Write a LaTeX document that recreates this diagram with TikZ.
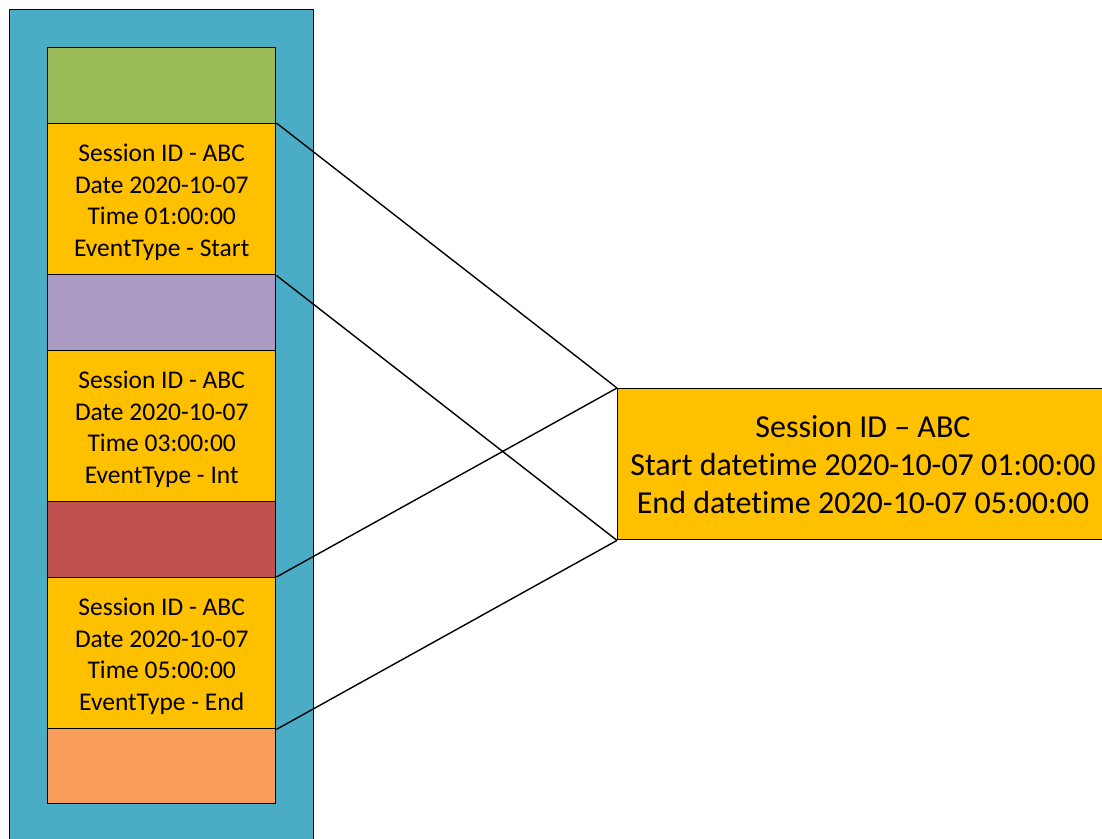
\documentclass[tikz,border=0pt]{standalone}
\usepackage{fontspec}
\setmainfont{Carlito}[Ligatures=NoCommon]
\definecolor{frameblue}{HTML}{4BACC6}
\definecolor{slotgreen}{HTML}{9BBB59}
\definecolor{eventamber}{HTML}{FFC000}
\definecolor{slotpurple}{HTML}{AB9BC3}
\definecolor{slotred}{HTML}{C0504D}
\definecolor{slotorange}{HTML}{F79D59}
\begin{document}
\begin{tikzpicture}[x=1bp,y=-1bp,
  box/.style={draw=black,line width=1.4bp,inner sep=0pt,minimum width=228bp,anchor=north west},
  slot/.style={box,minimum height=76bp},
  event/.style={box,fill=eventamber,minimum height=151bp},
  eventtext/.style={align=center,inner sep=0pt,font=\fontsize{25.5bp}{31.7bp}\selectfont},
  link/.style={draw=black,line width=1.4bp}]
\useasboundingbox (0,0) rectangle (1102,839);
% outer container
\node[draw=black,line width=1.4bp,fill=frameblue,inner sep=0pt,anchor=north west,
  minimum width=304bp,minimum height=860bp] (frame) at (9,9) {};
% stacked records
\node[slot,fill=slotgreen] (s1) at (47,47) {};
\node[event] (e1) at (47,123) {};
\node[eventtext] (t1) at ([yshift=-3bp]e1.center) {Session ID - ABC\\Date 2020-10-07\\Time 01:00:00\\EventType - Start};
\node[slot,fill=slotpurple] (s2) at (47,274) {};
\node[event] (e2) at (47,350) {};
\node[eventtext] (t2) at ([yshift=-3bp]e2.center) {Session ID - ABC\\Date 2020-10-07\\Time 03:00:00\\EventType - Int};
\node[slot,fill=slotred] (s3) at (47,501) {};
\node[event] (e3) at (47,577) {};
\node[eventtext] (t3) at ([yshift=-3bp]e3.center) {Session ID - ABC\\Date 2020-10-07\\Time 05:00:00\\EventType - End};
\node[slot,fill=slotorange,minimum height=75bp] (s4) at (47,728) {};
% merged session
\node[draw=black,line width=1.4bp,fill=eventamber,inner sep=0pt,anchor=north west,
  minimum width=500bp,minimum height=151bp] (sess) at (617,388) {};
\node[align=center,font=\fontsize{32bp}{38bp}\selectfont,anchor=center] (sesstext) at (863,465)
  {Session ID – ABC\\Start datetime 2020-10-07 01:00:00\\End datetime 2020-10-07 05:00:00};
% connectors
\draw[link] (e1.north east) -- (sess.north west);
\draw[link] (e1.south east) -- (sess.south west);
\draw[link] (e3.north east) -- (sess.north west);
\draw[link] (e3.south east) -- (sess.south west);
\end{tikzpicture}
\end{document}
